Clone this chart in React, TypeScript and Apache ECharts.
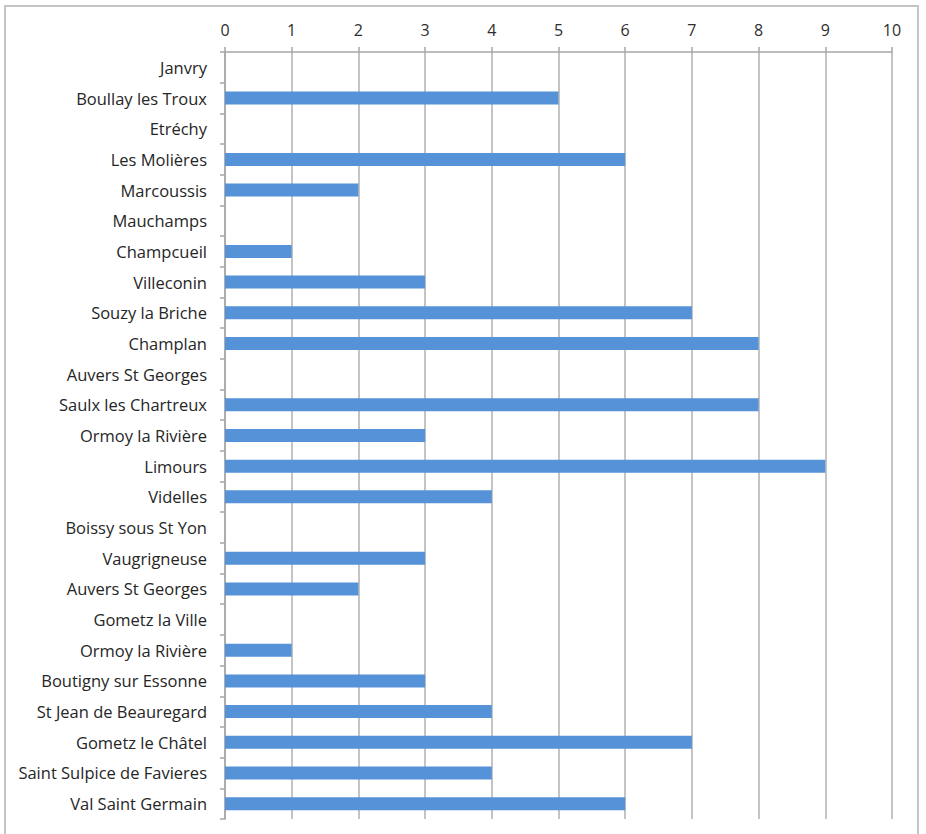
import React, { useEffect, useRef } from "react";
import * as echarts from "echarts";

const categories = [
  "Janvry",
  "Boullay les Troux",
  "Etréchy",
  "Les Molières",
  "Marcoussis",
  "Mauchamps",
  "Champcueil",
  "Villeconin",
  "Souzy la Briche",
  "Champlan",
  "Auvers St Georges",
  "Saulx les Chartreux",
  "Ormoy la Rivière",
  "Limours",
  "Videlles",
  "Boissy sous St Yon",
  "Vaugrigneuse",
  "Auvers St Georges",
  "Gometz la Ville",
  "Ormoy la Rivière",
  "Boutigny sur Essonne",
  "St Jean de Beauregard",
  "Gometz le Châtel",
  "Saint Sulpice de Favieres",
  "Val Saint Germain",
];

const values = [0, 5, 0, 6, 2, 0, 1, 3, 7, 8, 0, 8, 3, 9, 4, 0, 3, 2, 0, 1, 3, 4, 7, 4, 6];

const xTicks = { min: 0, max: 10, interval: 1 };

export default function App() {
  const ref = useRef<HTMLDivElement>(null);
  useEffect(() => {
    document.body.style.margin = "0";
    if (!ref.current) return;
    const chart = echarts.init(ref.current, undefined, { renderer: "svg" });
    chart.setOption({
      animation: false,
      backgroundColor: "#ffffff",
      graphic: [
        {
          type: "rect",
          shape: { x: 5, y: 6, width: 913, height: 840 },
          style: { fill: "none", stroke: "#c4c4c4", lineWidth: 2 },
          silent: true,
        },
      ],
      grid: { left: 225, right: 34, top: 52, bottom: 15, containLabel: false },
      xAxis: {
        type: "value",
        position: "top",
        min: xTicks.min,
        max: xTicks.max,
        interval: xTicks.interval,
        axisLine: { show: true, lineStyle: { color: "#a6a6a6", width: 1.5 } },
        axisTick: { show: true, length: 5, lineStyle: { color: "#a6a6a6", width: 1.5 } },
        axisLabel: {
          color: "#2e2e2e",
          fontFamily: "Open Sans",
          fontWeight: 500,
          fontSize: 16,
          margin: 14,
        },
        splitLine: { show: true, lineStyle: { color: "#b0b0b0", width: 1.5 } },
      },
      yAxis: {
        type: "category",
        inverse: true,
        data: categories,
        axisLine: { show: true, lineStyle: { color: "#a6a6a6", width: 1.5 } },
        axisTick: { show: true, length: 5, lineStyle: { color: "#a6a6a6", width: 1.5 } },
        axisLabel: {
          color: "#262626",
          fontFamily: "Open Sans",
          fontWeight: 500,
          fontSize: 16.5,
          margin: 18,
        },
        splitLine: { show: false },
      },
      series: [
        {
          type: "bar",
          data: values,
          barWidth: 13,
          itemStyle: { color: "#5592d8" },
        },
      ],
    });
    return () => chart.dispose();
  }, []);
  return <div ref={ref} style={{ width: 926, height: 834 }} />;
}
